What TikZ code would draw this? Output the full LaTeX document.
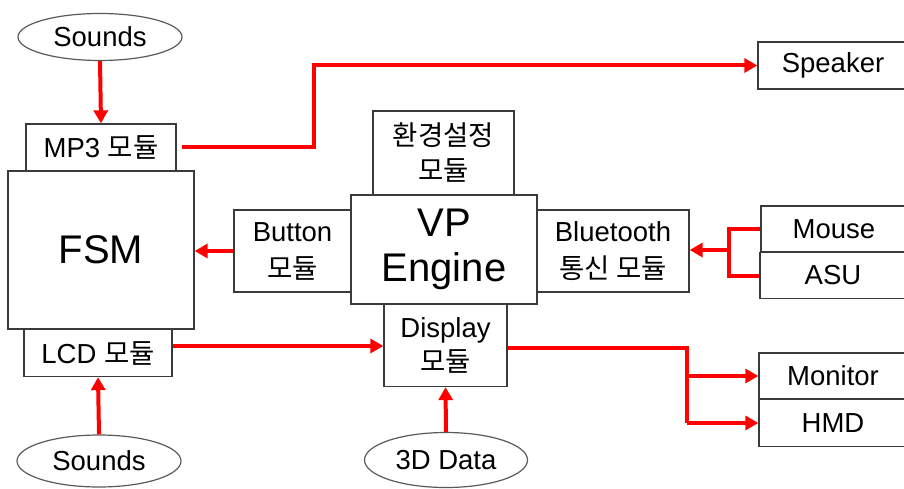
\documentclass[tikz,border=0pt]{standalone}
\usepackage{fontspec}
\setmainfont{Liberation Sans}
\newfontfamily\kr{Noto Sans CJK KR}
\usetikzlibrary{shapes.geometric,arrows.meta}

\definecolor{boxgray}{HTML}{3A3A3A}
\definecolor{ovalgray}{HTML}{5A5A5A}
\definecolor{wirered}{HTML}{FF0000}

\tikzset{
  box/.style={draw=boxgray, line width=1.3pt, fill=white, inner sep=0pt,
    align=center, font=\fontsize{27.5}{37}\selectfont},
  bigbox/.style={box, font=\fontsize{40}{45}\selectfont},
  oval/.style={ellipse, draw=ovalgray, line width=1.2pt, fill=white,
    inner sep=0pt, font=\fontsize{27.5}{30}\selectfont},
  wire/.style={wirered, line width=4pt, line join=miter},
  link/.style={wire, -{Triangle[length=13pt,width=14pt]}},
}

\begin{document}
\begin{tikzpicture}[x=1pt,y=-1pt]
\useasboundingbox (0,0) rectangle (904,489);
\clip (0,0) rectangle (904,489);

% input sources
\node[oval, minimum width=164pt, minimum height=47pt] (snd1) at (100,37) {Sounds};
\node[oval, minimum width=164pt, minimum height=52pt] (snd2) at (99,461) {Sounds};
\node[oval, minimum width=163pt, minimum height=55pt] (data) at (446,460) {3D Data};

% FSM block with its modules
\node[box, minimum width=150pt, minimum height=47pt] (mp3) at (101,147.5) {MP3 {\kr 모듈}};
\node[box, minimum width=148pt, minimum height=47pt] (lcd) at (98,353) {LCD {\kr 모듈}};
\node[bigbox, minimum width=186pt, minimum height=158pt] (fsm) at (101,250) {FSM};

% VP engine block with its modules
\node[box, minimum width=141pt, minimum height=84pt, font=\fontsize{27.5}{35}\selectfont] (env) at (443.5,153) {{\kr 환경설정}\\{\kr 모듈}};
\node[box, minimum width=117pt, minimum height=82pt] (button) at (292.5,251) {Button\\{\kr 모듈}};
\node[box, minimum width=152pt, minimum height=82pt] (bt) at (613,251) {Bluetooth\\{\kr 통신 모듈}};
\node[box, minimum width=123pt, minimum height=82pt, font=\fontsize{27.5}{34}\selectfont] (disp) at (445.5,345.5) {Display\\{\kr 모듈}};
\node[bigbox, minimum width=186pt, minimum height=109pt] (vp) at (444,249.5) {VP\\Engine};

% output and input devices on the right
\node[box, minimum width=150pt, minimum height=47pt] (speaker) at (833,65.5) {Speaker};
\node[box, minimum width=146pt, minimum height=46pt] (mouse) at (834,229) {Mouse};
\node[box, minimum width=146pt, minimum height=46pt] (asu) at (833,275.5) {ASU};
\node[box, minimum width=148pt, minimum height=46pt] (monitor) at (833,376) {Monitor};
\node[box, minimum width=148pt, minimum height=47pt] (hmd) at (833,423) {HMD};

% connectors
\draw[link] (snd1.south) -- (mp3.north);
\draw[link] (snd2.north) -- (lcd.south);
\draw[link] (data.north) -- (disp.south);
\draw[link] ([xshift=5pt]mp3.east) -- ++(132,0) |- (speaker.west);
\draw[link] (button.west) -- (fsm.east |- button.west);
\draw[link] ([yshift=7pt]lcd.east) -- ([yshift=7pt]lcd.east -| disp.west);

\coordinate (btjoin) at (729,250);
\draw[wire] (mouse.west) -| (btjoin) |- (asu.west);
\draw[link] (btjoin) -- (bt.east |- btjoin);

\coordinate (split) at (687,423);
\draw[wire] ([yshift=-2pt]disp.east) -| (split);
\draw[link] (split |- monitor.west) -- (monitor.west);
\draw[link] (split) -- (hmd.west);
\end{tikzpicture}
\end{document}
